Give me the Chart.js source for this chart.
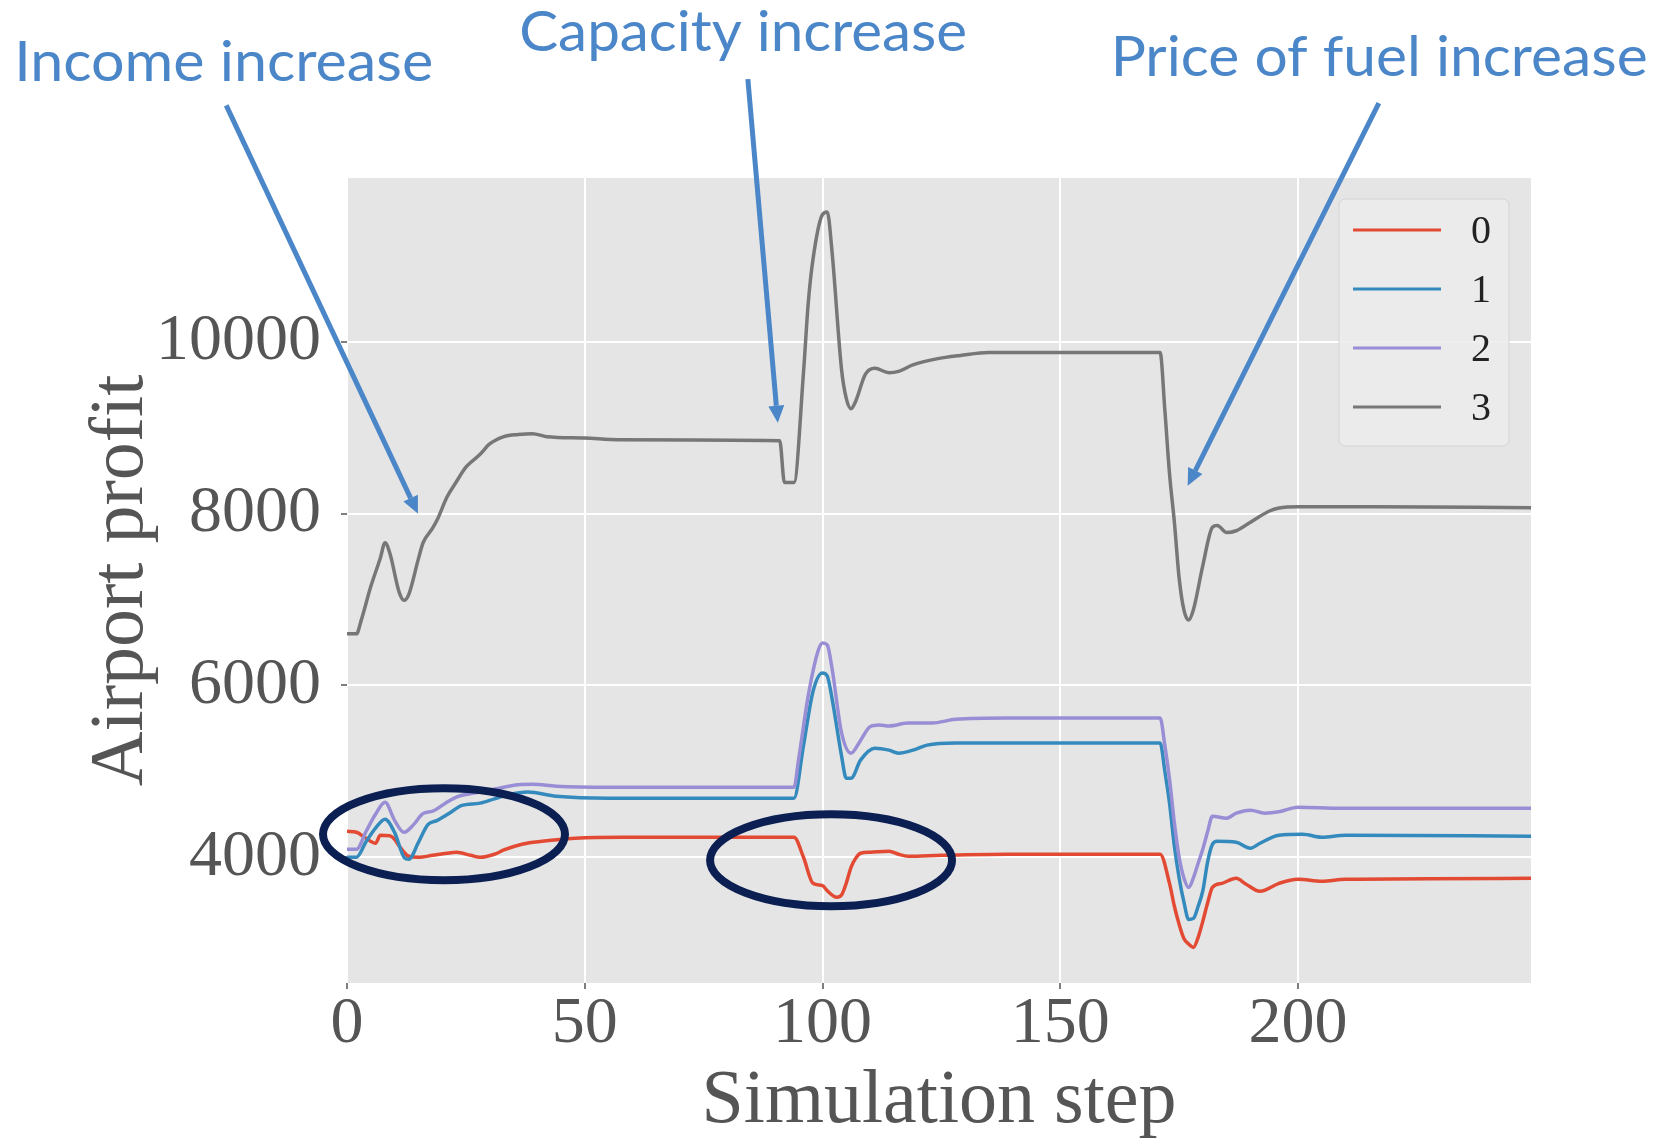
<!DOCTYPE html>
<html>
<head>
<meta charset="utf-8">
<title>Airport profit</title>
<script src="https://cdn.jsdelivr.net/npm/chart.js@4.4.0/dist/chart.umd.min.js"></script>
<style>
  html, body { margin: 0; padding: 0; background: #fff; }
  canvas { display: block; }
</style>
</head>
<body>
<canvas id="profitChart" width="1656" height="1138"></canvas>
<script>
// one line per airport, ggplot colours
const airportLabels = ['0', '1', '2', '3'];
const lineColors = ['#E24A33', '#348ABD', '#988ED5', '#777777'];

const xTicks = [0, 50, 100, 150, 200];
const yTicks = [4000, 6000, 8000, 10000];

// airport 0
const steps0 = [0, 2, 4, 6, 7, 9, 10, 11, 13, 15, 18, 21, 23, 26, 28, 31, 33, 37, 41, 48, 58, 94, 96, 98, 100, 101, 103, 104, 105, 106, 107, 108, 110, 114, 116, 118, 125, 139, 171, 173, 174, 175, 176, 177, 178, 179, 180, 181, 182, 184, 187, 189, 192, 196, 200, 205, 210, 249];
const profit0 = [4303, 4291, 4221, 4163, 4256, 4250, 4210, 4130, 4012, 4000, 4023, 4047, 4058, 4023, 4000, 4035, 4085, 4155, 4186, 4221, 4233, 4233, 4000, 3697, 3670, 3610, 3534, 3560, 3700, 3883, 3990, 4047, 4058, 4070, 4035, 4012, 4023, 4035, 4035, 3690, 3430, 3220, 3056, 2990, 2951, 3068, 3260, 3470, 3650, 3697, 3755, 3690, 3604, 3697, 3744, 3720, 3744, 3755];

// airport 1
const steps1 = [0, 2, 4, 6, 8, 10, 12, 13, 15, 17, 19, 22, 24, 28, 31, 34, 38, 44, 55, 94, 96, 98, 100, 101, 102, 104, 105, 106, 108, 111, 114, 116, 119, 122, 128, 171, 172, 173, 174, 175, 176, 177, 178, 179, 180, 181, 182, 183, 187, 190, 192, 196, 201, 205, 210, 249];
const profit1 = [4000, 4000, 4180, 4340, 4443, 4290, 4000, 3977, 4170, 4380, 4430, 4530, 4600, 4630, 4680, 4730, 4760, 4711, 4688, 4688, 5300, 5930, 6145, 6110, 5850, 5180, 4920, 4920, 5131, 5270, 5247, 5212, 5247, 5305, 5329, 5329, 5000, 4620, 4130, 3760, 3480, 3277, 3289, 3430, 3615, 3950, 4150, 4186, 4175, 4105, 4163, 4256, 4268, 4233, 4256, 4245];

// airport 2
const steps2 = [0, 2, 4, 6, 8, 10, 12, 14, 16, 18, 21, 23, 28, 32, 36, 39, 44, 55, 94, 95, 97, 99, 100, 101, 102, 104, 106, 108, 110, 112, 114, 118, 123, 128, 139, 171, 172, 173, 174, 175, 176, 177, 178, 179, 180, 181, 182, 185, 187, 190, 193, 196, 200, 209, 249];
const profit2 = [4093, 4093, 4300, 4500, 4641, 4430, 4291, 4380, 4510, 4536, 4640, 4700, 4760, 4805, 4845, 4850, 4828, 4816, 4816, 5150, 5880, 6390, 6494, 6471, 6200, 5450, 5212, 5360, 5520, 5540, 5527, 5562, 5562, 5605, 5620, 5620, 5300, 4900, 4400, 4000, 3760, 3650, 3760, 3930, 4100, 4300, 4478, 4455, 4513, 4548, 4513, 4530, 4583, 4571, 4571];

// airport 3
const steps3 = [0, 2, 3, 5, 7, 8, 9, 11, 12, 13, 15, 16, 18, 19, 21, 23, 25, 28, 30, 33, 36, 39, 42, 50, 57, 91, 92, 94, 96, 97, 98, 100, 101, 102, 104, 105, 106, 107, 109, 111, 114, 116, 119, 124, 129, 135, 171, 172, 173, 174, 175, 176, 177, 178, 180, 182, 183, 185, 187, 190, 194, 196, 200, 216, 249];
const profit3 = [6600, 6600, 6760, 7150, 7480, 7660, 7540, 7080, 6990, 7060, 7470, 7660, 7830, 7930, 8190, 8370, 8540, 8690, 8810, 8895, 8920, 8930, 8895, 8880, 8860, 8848, 8360, 8360, 9640, 10450, 10960, 11480, 11510, 11050, 9680, 9340, 9220, 9310, 9620, 9690, 9640, 9655, 9730, 9800, 9840, 9874, 9874, 9200, 8450, 7900, 7250, 6880, 6760, 6880, 7400, 7840, 7860, 7780, 7800, 7900, 8030, 8065, 8080, 8080, 8068];

// callouts, anchored in (step, profit) units
const noteTexts = ['Income increase', 'Capacity increase', 'Price of fuel increase'];
const noteAnchors = [[-70, 13030], [36.2, 13380], [160.6, 13090]];
const noteWidths = [419, 448, 537];
const arrowTails = [[-25.4, 12750], [84.3, 13056], [217, 12776]];
const arrowTips = [[14.9, 8000], [90.6, 9058], [176.8, 8324]];
const ellipseCenters = [[20.4, 4268], [101.8, 3965]];

const stepSets = [steps0, steps1, steps2, steps3];
const profitSets = [profit0, profit1, profit2, profit3];

const serif = 'Liberation Serif';
const noteBlue = '#4a86c8';
const navy = '#0b1f52';

const plotBackground = {
  id: 'plotBackground',
  beforeDraw(chart) {
    const { ctx, chartArea: a } = chart;
    ctx.save();
    ctx.fillStyle = '#fff';
    ctx.fillRect(0, 0, chart.width, chart.height);
    ctx.fillStyle = '#e5e5e5';
    ctx.fillRect(a.left, a.top, a.right - a.left, a.bottom - a.top);
    ctx.restore();
  }
};

// matplotlib style legend box in the upper right corner
const boxLegend = {
  id: 'boxLegend',
  afterDatasetsDraw(chart) {
    const { ctx, chartArea: a } = chart;
    const w = 170, h = 247;
    const left = a.right - 22 - w, top = a.top + 21;
    ctx.save();
    ctx.beginPath();
    ctx.roundRect(left, top, w, h, 6);
    ctx.fillStyle = 'rgba(236,236,236,0.85)';
    ctx.fill();
    ctx.strokeStyle = '#d4d4d4';
    ctx.lineWidth = 1;
    ctx.stroke();
    ctx.font = '40px "' + serif + '"';
    ctx.textBaseline = 'middle';
    chart.data.datasets.forEach((ds, i) => {
      const y = top + 31 + i * 59;
      ctx.strokeStyle = ds.borderColor;
      ctx.lineWidth = 3;
      ctx.beginPath();
      ctx.moveTo(left + 14, y);
      ctx.lineTo(left + 102, y);
      ctx.stroke();
      ctx.fillStyle = '#222';
      ctx.fillText(ds.label, left + 132, y + 2);
    });
    ctx.restore();
  }
};

function drawArrow(ctx, x0, y0, x1, y1) {
  const ang = Math.atan2(y1 - y0, x1 - x0);
  const head = 17, half = 8;
  const bx = x1 - head * Math.cos(ang), by = y1 - head * Math.sin(ang);
  ctx.beginPath();
  ctx.moveTo(x0, y0);
  ctx.lineTo(bx, by);
  ctx.stroke();
  ctx.beginPath();
  ctx.moveTo(x1, y1);
  ctx.lineTo(bx + half * Math.sin(ang), by - half * Math.cos(ang));
  ctx.lineTo(bx - half * Math.sin(ang), by + half * Math.cos(ang));
  ctx.closePath();
  ctx.fill();
}

const callouts = {
  id: 'callouts',
  afterDraw(chart) {
    const { ctx } = chart;
    const xs = chart.scales.x, ys = chart.scales.y;
    const px = p => [xs.getPixelForValue(p[0]), ys.getPixelForValue(p[1])];
    ctx.save();

    ctx.strokeStyle = navy;
    ctx.lineWidth = 8;
    ellipseCenters.forEach(c => {
      const [cx, cy] = px(c);
      ctx.beginPath();
      ctx.ellipse(cx, cy, 121, 46, 0, 0, Math.PI * 2);
      ctx.stroke();
    });

    ctx.strokeStyle = noteBlue;
    ctx.fillStyle = noteBlue;
    ctx.lineWidth = 5;
    arrowTails.forEach((t, i) => {
      const [x0, y0] = px(t);
      const [x1, y1] = px(arrowTips[i]);
      drawArrow(ctx, x0, y0, x1, y1);
    });

    ctx.font = '56px Lato';
    ctx.textBaseline = 'alphabetic';
    noteTexts.forEach((txt, i) => {
      const [x, y] = px(noteAnchors[i]);
      const w = ctx.measureText(txt).width;
      ctx.save();
      ctx.translate(x, y);
      ctx.scale(noteWidths[i] / w, 1);
      ctx.fillText(txt, 0, 0);
      ctx.restore();
    });
    ctx.restore();
  }
};

const datasets = airportLabels.map((label, i) => ({
  label,
  data: stepSets[i].map((s, j) => ({ x: s, y: profitSets[i][j] })),
  borderColor: lineColors[i],
  backgroundColor: lineColors[i],
  borderWidth: 3.5,
  pointRadius: 0,
  cubicInterpolationMode: 'monotone',
  order: 3 - i,
}));

const gridStyle = { color: '#ffffff', lineWidth: 2, tickColor: '#555555', tickLength: 6, tickWidth: 1.5 };

new Chart(document.getElementById('profitChart'), {
  type: 'line',
  data: { datasets },
  plugins: [plotBackground, boxLegend, callouts],
  options: {
    responsive: false,
    animation: false,
    layout: { padding: { left: 0, top: 178, right: 125, bottom: 0 } },
    plugins: { legend: { display: false }, tooltip: { enabled: false } },
    scales: {
      x: {
        type: 'linear',
        min: 0,
        max: 249,
        afterBuildTicks: s => { s.ticks = xTicks.map(v => ({ value: v })); },
        afterFit: s => { s.height = 155; },
        grid: gridStyle,
        border: { display: false },
        ticks: {
          color: '#555555',
          font: { family: serif, size: 66, lineHeight: 1 },
          padding: 3,
          maxRotation: 0,
          autoSkip: false,
          callback: v => String(v),
        },
        title: {
          display: true,
          text: 'Simulation step',
          color: '#555555',
          font: { family: serif, size: 76, lineHeight: 0.94 },
          padding: { top: 0, bottom: 0 },
        },
      },
      y: {
        type: 'linear',
        min: 2537,
        max: 11905,
        afterBuildTicks: s => { s.ticks = yTicks.map(v => ({ value: v })); },
        afterFit: s => { s.width = 347; },
        grid: gridStyle,
        border: { display: false },
        ticks: {
          color: '#555555',
          font: { family: serif, size: 66, lineHeight: 1 },
          padding: 20,
          callback: v => String(v),
        },
        title: {
          display: true,
          text: 'Airport profit',
          color: '#555555',
          font: { family: serif, size: 76, lineHeight: 1 },
          padding: { top: 84, bottom: 0 },
        },
      },
    },
  },
});
</script>
</body>
</html>
